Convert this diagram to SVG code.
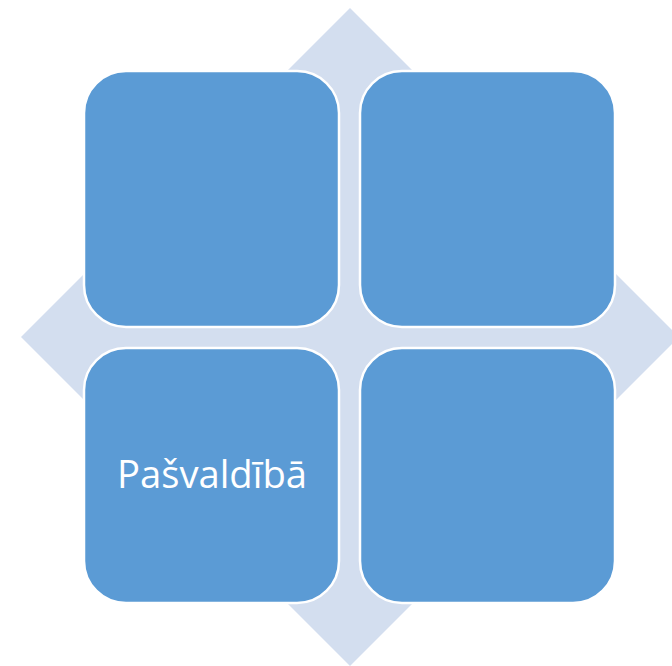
<svg xmlns="http://www.w3.org/2000/svg" width="672" height="666" viewBox="0 0 672 666">
<style>
.box{fill:#5B9BD5;stroke:#FFFFFF;stroke-width:2.5}
.bg{fill:#D3DEEF}
.lbl{font-family:"Open Sans","Noto Sans","Liberation Sans",sans-serif;font-size:38px;fill:#FFFFFF;text-anchor:middle}
</style>
<g id="background">
<polygon class="bg" points="350,8 679,337 350,666 21,337"/>
</g>
<g id="connectors"></g>
<g id="node-top-left">
<rect class="box" x="84" y="71" width="255" height="256" rx="42" ry="42"/>
</g>
<g id="node-top-right">
<rect class="box" x="360" y="71" width="255" height="256" rx="42" ry="42"/>
</g>
<g id="node-bottom-left">
<rect class="box" x="84" y="348" width="255" height="255" rx="42" ry="42"/>
<text class="lbl" x="212" y="488" textLength="190" lengthAdjust="spacingAndGlyphs">Pašvaldībā</text>
</g>
<g id="node-bottom-right">
<rect class="box" x="360" y="348" width="255" height="255" rx="42" ry="42"/>
</g>
</svg>
